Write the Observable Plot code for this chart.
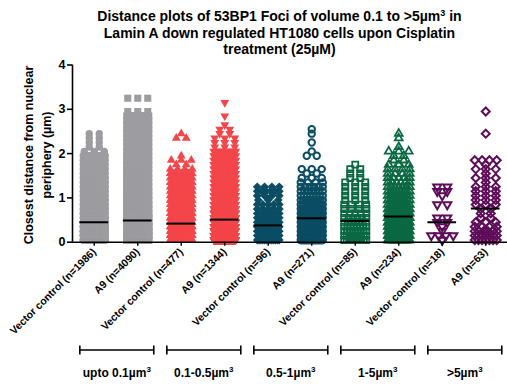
<!DOCTYPE html>
<html>
<head>
<meta charset="utf-8">
<script src="https://cdn.jsdelivr.net/npm/d3@7"></script>
<script src="https://cdn.jsdelivr.net/npm/@observablehq/plot@0.6"></script>
<style>
  body { margin: 0; background: #fff; font-family: "Liberation Sans", Arial, sans-serif; }
  #title {
    box-sizing: border-box; width: 507px; height: 58px; padding: 8px 0 0 52px;
    text-align: center; font-weight: bold; font-size: 14px; line-height: 16.5px; color: #000;
  }
  #title sup { font-size: 9px; line-height: 0; vertical-align: 5px; }
  #chart svg { display: block; }
</style>
</head>
<body>
<div id="title">Distance plots of 53BP1 Foci of volume 0.1 to &gt;5µm<sup>3</sup> in<br>Lamin A down regulated HT1080 cells upon Cisplatin<br>treatment (25µM)</div>
<div id="chart"></div>
<script>
// Column (condition) labels, left to right
const columnLabels = [
  "Vector control (n=1986)", "A9 (n=4090)",
  "Vector control (n=477)", "A9 (n=1344)",
  "Vector control (n=96)", "A9 (n=271)",
  "Vector control (n=85)", "A9 (n=234)",
  "Vector control (n=18)", "A9 (n=63)"
];

// Foci volume classes, each spanning a Vector control / A9 pair
const sizeClasses = ["upto 0.1µm", "0.1-0.5µm", "0.5-1µm", "1-5µm", ">5µm"];
const sizeClassExponent = "3";

// Distance bins (µm, bin centres) used for the per-column foci counts
const distanceBins = [
  0.05, 0.15, 0.25, 0.35, 0.45, 0.55, 0.65, 0.75, 0.85, 0.95,
  1.05, 1.15, 1.25, 1.35, 1.45, 1.55, 1.65, 1.75, 1.85, 1.95,
  2.05, 2.15, 2.25, 2.35, 2.45, 2.55, 2.65, 2.75, 2.85, 2.95,
  3.05, 3.15, 3.25
];

// Number of foci per distance bin, one list per column
const vectorUpto01 = [240, 250, 250, 200, 150, 120, 100, 90, 80, 70, 65, 60, 55, 50, 45, 40, 35, 30, 25, 20,
                      3, 2, 2, 2, 2];
const a9Upto01 = [420, 450, 450, 420, 360, 300, 240, 200, 170, 145, 125, 110, 97, 85, 75, 66, 58, 51, 45, 40,
                  35, 30, 26, 22, 18, 15, 12, 7, 12, 3, 0, 0, 3];
const vector01to05 = [65, 67, 55, 48, 40, 37, 28, 24, 20, 17, 15, 13, 11, 9, 8, 7,
                      4, 2, 3, 1, 0, 0, 0, 2, 1];
const a901to05 = [140, 159, 160, 140, 115, 95, 88, 68, 58, 50, 43, 37, 32, 28, 24, 21, 18, 16, 14, 12, 10,
                  3, 3, 3, 2, 2, 1, 0, 1, 0, 0, 1];
const vector05to1 = [13, 13, 12, 10, 8, 7, 6, 5, 5, 3, 4, 6, 4];
const a905to1 = [31, 35, 33, 30, 26, 22, 18, 15, 12, 10, 8, 7, 6,
                 4, 3, 2, 3, 0, 0, 2, 1, 0, 1, 0, 1, 1];
const vector1to5 = [10, 10, 9, 8, 7, 6, 5, 4, 4, 3, 3, 3, 3, 3, 2, 2, 2, 1];
const a91to5 = [22, 24, 24, 22, 20, 17, 15, 13, 11, 10, 9, 8, 7, 6, 5, 4,
                4, 3, 2, 2, 3, 1, 0, 1, 1];
const vectorOver5 = [1, 4, 1, 1, 2, 2, 0, 0, 2, 0, 1, 2, 2];
const a9Over5 = [7, 7, 6, 4, 3, 2, 2, 2, 3, 3, 3, 3, 3, 1, 3, 1, 3, 1, 4, 0, 0, 0, 0, 0, 1, 0, 0, 0, 0, 1];

const columnCounts = [vectorUpto01, a9Upto01, vector01to05, a901to05, vector05to1,
                      a905to1, vector1to5, a91to5, vectorOver5, a9Over5];

// Median distance per column (µm)
const medians = [0.45, 0.49, 0.42, 0.51, 0.38, 0.54, 0.48, 0.58, 0.45, 0.76];

const yTicks = [0, 1, 2, 3, 4];

// ---- drawing ----
const W = 507, H = 330, ML = 72, MR = 0, MT = 6.5, MB = 146.3;
const stepPx = (W - ML - MR) / columnLabels.length;
const SPREAD = 22;   // max horizontal spread of a row of dots (px)
const GAP = 10;      // preferred spacing of sparse dots (px)

const gray = "#9d9da1", red = "#f4464a", teal = "#0b4d63", green = "#0a6942", purple = "#5e0c59";
const markerStyles = [
  {symbol: "circle",   fill: gray,   r: 3.7},
  {symbol: "square",   fill: gray,   r: 4.0},
  {symbol: "triangle", fill: red,    r: 3.3},
  {symbol: "triangle", fill: red,    r: 3.3, rotate: 180},
  {symbol: "diamond2", fill: teal,   r: 4.0},
  {symbol: "circle",   stroke: teal, r: 3.2, strokeWidth: 2},
  {symbol: "square",   stroke: green, r: 3.4, strokeWidth: 1.8},
  {symbol: "triangle", stroke: green, r: 2.9, strokeWidth: 1.8},
  {symbol: "triangle", stroke: purple, r: 3.0, strokeWidth: 2, rotate: 180},
  {symbol: "diamond2", stroke: purple, r: 3.6, strokeWidth: 2}
];

// Lay each bin's foci out side by side in a centred row (scatter dot plot)
function columnDots(counts, col) {
  const dots = [];
  counts.forEach((c, k) => {
    const s = c > 1 ? Math.min(GAP, SPREAD / (c - 1)) : 0;
    for (let j = 0; j < c; j++) {
      dots.push({x: col + ((j - (c - 1) / 2) * s) / stepPx, y: distanceBins[k]});
    }
  });
  return dots;
}

const dotMarks = columnCounts.map((counts, col) => {
  const st = markerStyles[col];
  return Plot.dot(columnDots(counts, col), {
    x: "x", y: "y", symbol: st.symbol, r: st.r,
    fill: st.fill || "none", stroke: st.stroke || "none",
    strokeWidth: st.strokeWidth || 0, rotate: st.rotate || 0
  });
});

const medianRows = medians.map((m, i) => ({i, m}));

const plot = Plot.plot({
  width: W, height: H,
  marginLeft: ML, marginRight: MR, marginTop: MT, marginBottom: MB,
  style: "font-family: 'Liberation Sans', Arial, sans-serif; font-weight: bold; color: #000; background: #fff; overflow: visible;",
  x: {domain: [-0.5, columnLabels.length - 0.5], axis: null},
  y: {domain: [0, 4], axis: null},
  marks: [
    ...dotMarks,
    Plot.ruleY(medianRows, {y: "m", x1: d => d.i - 0.33, x2: d => d.i + 0.33, stroke: "#000", strokeWidth: 2}),
    Plot.ruleY([0], {stroke: "#000", strokeWidth: 1.6}),
    Plot.ruleX([-0.5], {y1: 0, y2: 4, stroke: "#000", strokeWidth: 1.6}),
    Plot.axisY({ticks: yTicks, tickFormat: d3.format("d"), tickSize: 5, tickPadding: 2, fontSize: 12.5,
                label: null, strokeWidth: 1.6}),
    Plot.axisX({ticks: d3.range(columnLabels.length), tickFormat: i => columnLabels[i],
                tickRotate: -45, tickSize: 4, tickPadding: 4, fontSize: 10.5, label: null, strokeWidth: 1.4})
  ]
});

document.getElementById("chart").append(plot);

const svg = d3.select(plot);
const xs = plot.scale("x");

// y-axis title (two lines)
const yTitle = svg.append("g")
  .attr("font-size", 12.5).attr("font-weight", "bold").attr("text-anchor", "middle").attr("fill", "#000");
yTitle.append("text").attr("transform", "translate(33,97) rotate(-90)").text("Closest distance from nuclear");
yTitle.append("text").attr("transform", "translate(51,97) rotate(-90)").text("periphery (µm)");

// brackets grouping each Vector control / A9 pair by foci volume
const brackets = svg.append("g").attr("stroke", "#000").attr("stroke-width", 1.6).attr("fill", "none");
const bracketLabels = svg.append("g")
  .attr("font-size", 12).attr("font-weight", "bold").attr("text-anchor", "middle").attr("fill", "#000");
const bracketY = 292;
sizeClasses.forEach((name, k) => {
  const x0 = xs.apply(2 * k - 0.32), x1 = xs.apply(2 * k + 1 + 0.38);
  const a = x0, b = Math.min(W - 1, x1);
  brackets.append("path").attr("d",
    `M${a},${bracketY} H${b} M${a},${bracketY - 4.5} V${bracketY + 4.5} M${b},${bracketY - 4.5} V${bracketY + 4.5}`);
  const t = bracketLabels.append("text").attr("x", (x0 + x1) / 2).attr("y", 319);
  t.append("tspan").text(name);
  t.append("tspan").attr("font-size", 8).attr("dy", -5).text(sizeClassExponent);
});
</script>
</body>
</html>
